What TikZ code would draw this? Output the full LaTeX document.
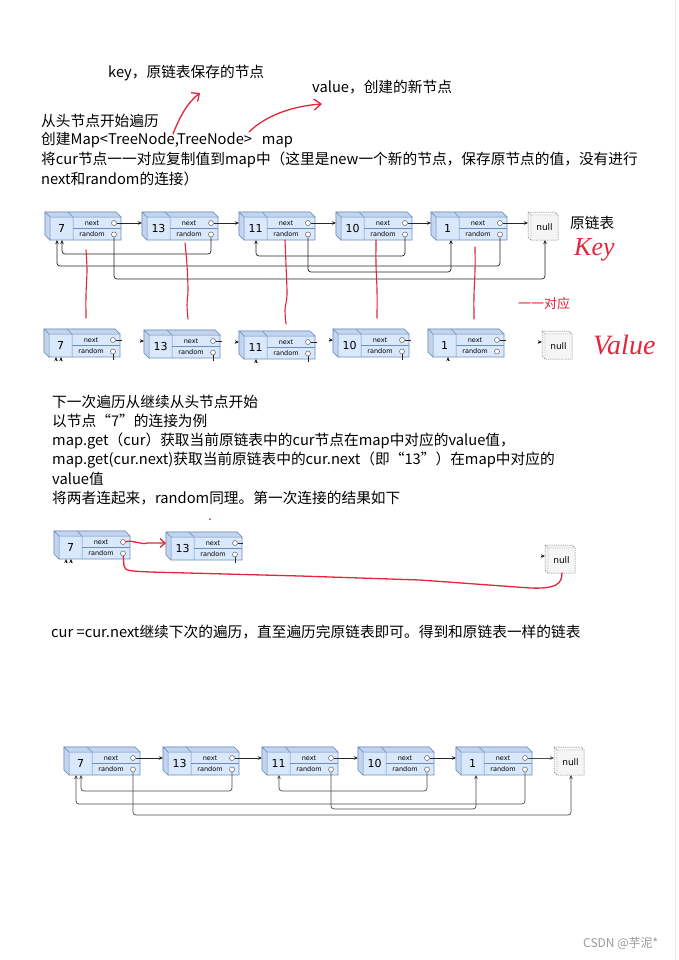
\documentclass[tikz,border=0pt]{standalone}
\usepackage{fontspec}
\setmainfont{Noto Sans CJK SC}
\newfontfamily\nodefont{DejaVu Sans}
\newfontfamily\handfont{Liberation Serif}
\usetikzlibrary{arrows.meta,calc}
\definecolor{nfill}{HTML}{DAE8FC}
\definecolor{nside}{HTML}{C2D4EE}
\definecolor{nline}{HTML}{6C8EBF}
\definecolor{gfill}{HTML}{F5F5F5}
\definecolor{gline}{HTML}{777777}
\definecolor{pen}{HTML}{E3263B}
\definecolor{wm}{HTML}{9A9A9A}

\newcommand{\LNode}[4]{%
  \begin{scope}[shift={(#2,#3)}]
    \filldraw[fill=nfill,draw=nline,line width=0.6pt] (0,0) -- (71,0) -- (76,5) -- (76,28) -- (5,28) -- (0,23) -- cycle;
    \filldraw[fill=nside,draw=nline,line width=0.5pt] (0,0) -- (71,0) -- (76,5) -- (5,5) -- cycle;
    \filldraw[fill=nside,draw=nline,line width=0.5pt] (0,0) -- (5,5) -- (5,28) -- (0,23) -- cycle;
    \draw[nline,line width=0.5pt] (23,0) -- (28,5) -- (28,28);
    \draw[nline,line width=0.5pt] (28,16.5) -- (76,16.5);
    \node[valtext] (#1) at (16.5,16.5) {#4};
    \node[fieldtext] (#1-n) at (47,11) {next};
    \node[fieldtext] (#1-r) at (47,22.5) {random};
    \node[ptr] (#1-nc) at (69,11) {};
    \node[ptr] (#1-rc) at (69,22.5) {};
    \coordinate (#1-L) at (0,11);
    \coordinate (#1-b1) at (12,28);
    \coordinate (#1-b2) at (17,28);
    \coordinate (#1-b3) at (20,28);
  \end{scope}}

\newcommand{\NullNode}[3]{%
  \begin{scope}[shift={(#2,#3)}]
    \filldraw[fill=gfill,draw=gline,dashed,dash pattern=on 1.2pt off 1pt,line width=0.5pt] (0,0) -- (27,0) -- (30,3) -- (30,28) -- (3,28) -- (0,25) -- cycle;
    \draw[gline,dashed,dash pattern=on 1.2pt off 1pt,line width=0.4pt] (0,0) -- (3,3) -- (30,3) (3,3) -- (3,28);
    \node[font=\nodefont\fontsize{9}{9}\selectfont,inner sep=0] (#1) at (16.5,15.5) {null};
    \coordinate (#1-L) at (0,11);
    \coordinate (#1-b) at (17,28);
  \end{scope}}

\begin{document}
\begin{tikzpicture}[x=1pt,y=-1pt,
  txt/.style={anchor=west,inner sep=0,font=\fontsize{14.7}{18}\selectfont},
  valtext/.style={inner sep=0,font=\nodefont\fontsize{11}{11}\selectfont},
  fieldtext/.style={inner sep=0,font=\nodefont\fontsize{6.5}{7}\selectfont},
  ptr/.style={circle,draw=black!60,fill=white,inner sep=0,minimum size=5pt,line width=0.5pt},
  link/.style={draw=black!85,line width=0.7pt,rounded corners=3pt,-{Stealth[length=4pt,width=3.5pt]}},
  glink/.style={link,draw=black!70},
  stub/.style={draw=black!85,line width=0.7pt},
  redpen/.style={draw=pen,line width=1.3pt,line cap=round,line join=round},
  redtext/.style={anchor=west,inner sep=0,text=pen}]

\useasboundingbox (0,0) rectangle (679,960);
\fill[white] (0,0) rectangle (679,960);
\draw[black!8,line width=1pt] (675,0) -- (675,960);

% ---------- top texts ----------
\node[txt] (tkey) at (108,73) {key，原链表保存的节点};
\node[txt] (tval) at (312,87) {value，创建的新节点};
\node[txt] (t1) at (41,121) {从头节点开始遍历};
\node[txt] (t2) at (41,140) {创建Map<TreeNode,TreeNode>\ \ \ map};
\node[txt] (t3) at (41,160) {将cur节点一一对应复制值到map中（这里是new一个新的节点，保存原节点的值，没有进行};
\node[txt] (t4) at (41,179) {next和random的连接）};

\draw[redpen,-{Straight Barb[length=6pt,width=11pt]}] (173,134) .. controls (180,116) and (188,102) .. (200,93);
\draw[redpen,-{Straight Barb[length=7pt,width=11pt]}] (249,132) .. controls (265,116) and (292,106) .. (322,104);

% ---------- row 1 : original list ----------
\LNode{a1}{45}{212}{7}
\LNode{a2}{142}{212}{13}
\LNode{a3}{239}{212}{11}
\LNode{a4}{336}{212}{10}
\LNode{a5}{431}{212}{1}
\NullNode{a6}{528}{212}

\draw[link] (a1-nc) -- (a2-L);
\draw[link] (a2-nc) -- (a3-L);
\draw[link] (a3-nc) -- (a4-L);
\draw[link] (a4-nc) -- (a5-L);
\draw[link] (a5-nc) -- (a6-L);

\draw[link] (a2-rc) -- ++(0,19.5) -| (a1-b2);
\draw[link] (a4-rc) -- ++(0,21.5) -| (a3-b2);
\draw[link] (a5-rc) -- ++(0,31.5) -| (a1-b1);
\draw[link] (a3-rc) -- ++(0,37.5) -| (a5-b3);
\draw[link] (a1-rc) -- ++(0,44.5) -| (a6-b);

\node[txt] (lbl1) at (570,223) {原链表};
\node[redtext,font=\handfont\itshape\fontsize{26}{26}\selectfont] (hkey) at (574,250) {Key};

% red correspondence strokes
\draw[redpen,line width=1.1pt] plot[smooth] coordinates {(86,250) (87,270) (86,295) (86,318)};
\draw[redpen,line width=1.1pt] plot[smooth] coordinates {(185,243) (187,265) (188,290) (187,305) (188,319)};
\draw[redpen,line width=1.1pt] plot[smooth] coordinates {(285,240) (286,265) (287,295) (285,310) (286,324)};
\draw[redpen,line width=1.1pt] plot[smooth] coordinates {(376,240) (376,265) (377,290) (377,318)};
\draw[redpen,line width=1.1pt] plot[smooth] coordinates {(475,247) (475,270) (474,295) (474,319)};

\node[redtext,font=\fontsize{13}{13}\selectfont] (dui) at (518,304) {一一对应};

% ---------- row 2 : copied nodes ----------
\LNode{b1}{44}{329}{7}
\LNode{b2}{144}{330}{13}
\LNode{b3}{239}{331}{11}
\LNode{b4}{333}{329}{10}
\LNode{b5}{428}{329}{1}
\NullNode{b6}{542}{331}

\draw[stub] (b1-nc) -- ++(9,0);
\draw[stub] (b2-nc) -- ++(9,0);
\draw[stub] (b3-nc) -- ++(9,0);
\draw[stub] (b4-nc) -- ++(9,0);
\draw[stub] (b5-nc) -- ++(9,0);
\draw[stub] (b1-rc) -- ++(0,8);
\draw[stub] (b2-rc) -- ++(0,8);
\draw[stub] (b3-rc) -- ++(0,8);
\draw[stub] (b4-rc) -- ++(0,8);
\draw[link] ($(b1-b1)+(0,4)$) -- (b1-b1);
\draw[link] ($(b1-b2)+(0,4)$) -- (b1-b2);
\draw[link] ($(b2-L)+(-4,0)$) -- (b2-L);
\draw[link] ($(b3-L)+(-4,0)$) -- (b3-L);
\draw[link] ($(b3-b2)+(0,4)$) -- (b3-b2);
\draw[link] ($(b4-L)+(-4,0)$) -- (b4-L);
\draw[link] ($(b5-b3)+(0,4)$) -- (b5-b3);
\draw[link] ($(b6-L)+(-4,0)$) -- (b6-L);

\node[redtext,font=\handfont\itshape\fontsize{28}{28}\selectfont] (hval) at (593,345) {Value};

% ---------- middle texts ----------
\node[txt] (s1) at (52,402) {下一次遍历从继续从头节点开始};
\node[txt] (s2) at (52,421) {以节点“7”的连接为例};
\node[txt] (s3) at (52,441) {map.get（cur）获取当前原链表中的cur节点在map中对应的value值，};
\node[txt] (s4) at (52,460) {map.get(cur.next)获取当前原链表中的cur.next（即“13”）在map中对应的};
\node[txt] (s5) at (52,479) {value值};
\node[txt] (s6) at (52,498) {将两者连起来，random同理。第一次连接的结果如下};

% ---------- row 3 : first connection ----------
\fill[pen] (210,519) circle (1pt);
\LNode{c1}{54}{531}{7}
\LNode{c2}{166}{532}{13}
\NullNode{c3}{545}{545}
\draw[stub] (c2-nc) -- ++(8,0);
\draw[stub] (c2-rc) -- ++(0,8);
\draw[link] ($(c1-b1)+(0,4)$) -- (c1-b1);
\draw[link] ($(c1-b2)+(0,4)$) -- (c1-b2);
\draw[link] ($(c3-L)+(-4,0)$) -- (c3-L);
\draw[redpen,-{Straight Barb[length=5pt,width=9pt]}] (c1-nc) .. controls (135,540) and (140,545) .. (148,543) -- (c2-L);
\draw[redpen] (c1-rc) -- (124,566) .. controls (125,571) and (130,571) .. (150,572)
  -- (300,576) -- (420,580) -- (530,588) .. controls (556,589) and (562,584) .. (c3-b);

% ---------- bottom ----------
\node[txt] (s7) at (51,632) {cur =cur.next继续下次的遍历，直至遍历完原链表即可。得到和原链表一样的链表};

% ---------- row 4 : result ----------
\LNode{d1}{64}{747}{7}
\LNode{d2}{163}{747}{13}
\LNode{d3}{262}{747}{11}
\LNode{d4}{358}{747}{10}
\LNode{d5}{456}{747}{1}
\NullNode{d6}{554}{747}

\draw[link] (d1-nc) -- (d2-L);
\draw[link] (d2-nc) -- (d3-L);
\draw[link] (d3-nc) -- (d4-L);
\draw[link] (d4-nc) -- (d5-L);
\draw[glink] (d5-nc) -- (d6-L);

\draw[glink] (d2-rc) -- ++(0,21.5) -| (d1-b2);
\draw[glink] (d4-rc) -- ++(0,21.5) -| (d3-b2);
\draw[glink] (d5-rc) -- ++(0,34.5) -| (d1-b1);
\draw[glink] (d3-rc) -- ++(0,39.5) -| (d5-b3);
\draw[glink] (d1-rc) -- ++(0,45.5) -| (d6-b);

\node[anchor=west,inner sep=0,text=wm,font=\fontsize{12}{12}\selectfont] (wmark) at (583,943) {CSDN @芋泥*};
\end{tikzpicture}
\end{document}
